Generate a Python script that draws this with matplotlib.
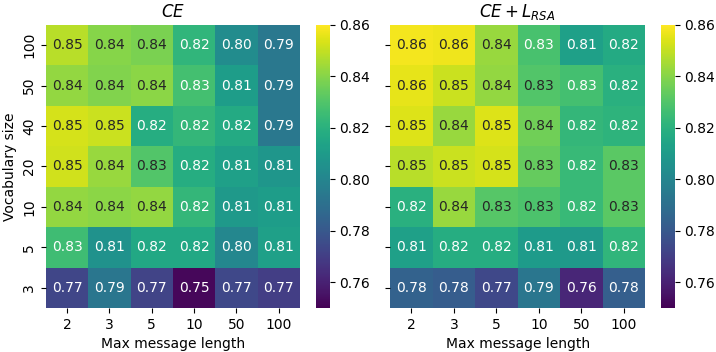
import numpy as np
import matplotlib
matplotlib.use("Agg")
import matplotlib.pyplot as plt
import seaborn as sns

# axis categories
vocab_sizes = ["100", "50", "40", "20", "10", "5", "3"]
msg_lengths = ["2", "3", "5", "10", "50", "100"]

# accuracy, CE only (rows = vocab size, top to bottom)
ce = np.array([
    [0.848, 0.840, 0.838, 0.822, 0.803, 0.794],
    [0.842, 0.839, 0.841, 0.827, 0.811, 0.794],
    [0.853, 0.851, 0.818, 0.823, 0.817, 0.794],
    [0.852, 0.843, 0.830, 0.818, 0.812, 0.808],
    [0.842, 0.841, 0.842, 0.823, 0.809, 0.811],
    [0.826, 0.806, 0.816, 0.816, 0.801, 0.812],
    [0.773, 0.793, 0.772, 0.752, 0.774, 0.770],
])

# accuracy, CE + L_RSA
ce_rsa = np.array([
    [0.858, 0.857, 0.843, 0.828, 0.812, 0.817],
    [0.856, 0.851, 0.842, 0.830, 0.827, 0.820],
    [0.854, 0.843, 0.854, 0.836, 0.823, 0.821],
    [0.848, 0.851, 0.853, 0.834, 0.824, 0.832],
    [0.820, 0.843, 0.831, 0.829, 0.824, 0.832],
    [0.812, 0.818, 0.818, 0.810, 0.809, 0.822],
    [0.784, 0.782, 0.774, 0.793, 0.762, 0.783],
])

vmin, vmax = 0.75, 0.86

fig = plt.figure(figsize=(7.16, 3.52), dpi=100)
ax1 = fig.add_axes([0.064, 0.125, 0.355, 0.804])
cax1 = fig.add_axes([0.441, 0.125, 0.0196, 0.804])
ax2 = fig.add_axes([0.545, 0.125, 0.356, 0.804])
cax2 = fig.add_axes([0.923, 0.125, 0.0196, 0.804])

sns.heatmap(ce, ax=ax1, cbar_ax=cax1, cmap="viridis", vmin=vmin, vmax=vmax,
            annot=True, fmt=".2f", xticklabels=msg_lengths, yticklabels=vocab_sizes,
            annot_kws={"fontsize": 10})
sns.heatmap(ce_rsa, ax=ax2, cbar_ax=cax2, cmap="viridis", vmin=vmin, vmax=vmax,
            annot=True, fmt=".2f", xticklabels=msg_lengths, yticklabels=False,
            annot_kws={"fontsize": 10})

ax1.set_title("$CE$", fontsize=12)
ax2.set_title("$CE + L_{RSA}$", fontsize=12)
ax1.set_xlabel("Max message length")
ax2.set_xlabel("Max message length")
ax1.set_ylabel("Vocabulary size")

# right panel keeps tick marks but no labels
ax2.set_yticks(np.arange(len(vocab_sizes)) + 0.5)
ax2.set_yticklabels([])

for a in (ax1, ax2):
    a.tick_params(axis="y", rotation=90)
    a.tick_params(axis="x", rotation=0)
for c in (cax1, cax2):
    c.set_yticks([0.76, 0.78, 0.80, 0.82, 0.84, 0.86])

fig.savefig("out.png", dpi=100)
